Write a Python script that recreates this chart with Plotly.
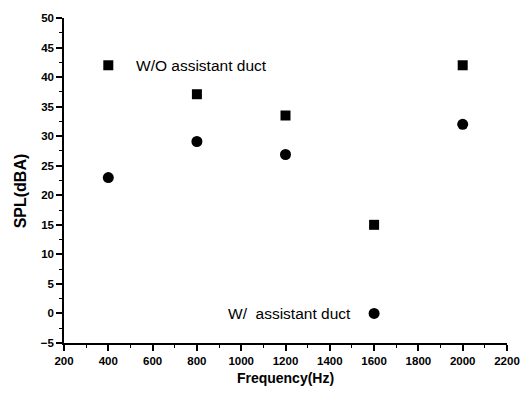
import plotly.graph_objects as go

freq = [400, 800, 1200, 1600, 2000]
spl_without = [42, 37.1, 33.5, 15, 42]
spl_with = [23, 29.1, 26.9, 0, 32]

font = "Liberation Sans, Arial, sans-serif"

fig = go.Figure()
fig.add_trace(go.Scatter(x=freq, y=spl_without, mode="markers",
                         marker=dict(symbol="square", size=10, color="black"),
                         name="W/O assistant duct", showlegend=False))
fig.add_trace(go.Scatter(x=freq, y=spl_with, mode="markers",
                         marker=dict(symbol="circle", size=11, color="black"),
                         name="W/ assistant duct", showlegend=False))

fig.add_annotation(x=515, y=42, text="W/O assistant duct", showarrow=False,
                   xanchor="left", yanchor="middle",
                   font=dict(family=font, size=15.5, color="black"))
fig.add_annotation(x=1503, y=0, text="W/  assistant duct", showarrow=False,
                   xanchor="right", yanchor="middle",
                   font=dict(family=font, size=15.5, color="black"))
fig.add_annotation(xref="paper", yref="paper", x=-0.099, y=0.467,
                   text="SPL(dBA)", textangle=-90, showarrow=False,
                   xanchor="center", yanchor="middle",
                   font=dict(family=font, size=16, color="black", weight="bold"))

axis_common = dict(showline=True, linecolor="black", linewidth=1.5,
                   ticks="outside", ticklen=6, tickwidth=1.5, tickcolor="black",
                   showgrid=False, zeroline=False, mirror=False,
                   tickfont=dict(family=font, size=11.5, color="black", weight="bold"))

fig.update_xaxes(range=[200, 2200], dtick=200, tick0=200,
                 title=dict(text="Frequency(Hz)", font=dict(family=font, size=14, color="black", weight="bold"), standoff=8),
                 **axis_common)
fig.update_yaxes(range=[-5, 50], dtick=5, tick0=0,
                 **axis_common)
fig.update_xaxes(minor_ticks="outside", minor_ticklen=3, minor_dtick=100,
                 minor_tickcolor="black", minor_tickwidth=1.2)
fig.update_yaxes(minor_ticks="outside", minor_ticklen=3, minor_dtick=2.5,
                 minor_tickcolor="black", minor_tickwidth=1.2)

fig.update_layout(width=532, height=396,
                  margin=dict(l=64, r=23, t=16, b=50),
                  plot_bgcolor="white", paper_bgcolor="white")

fig.write_html("out.html")
